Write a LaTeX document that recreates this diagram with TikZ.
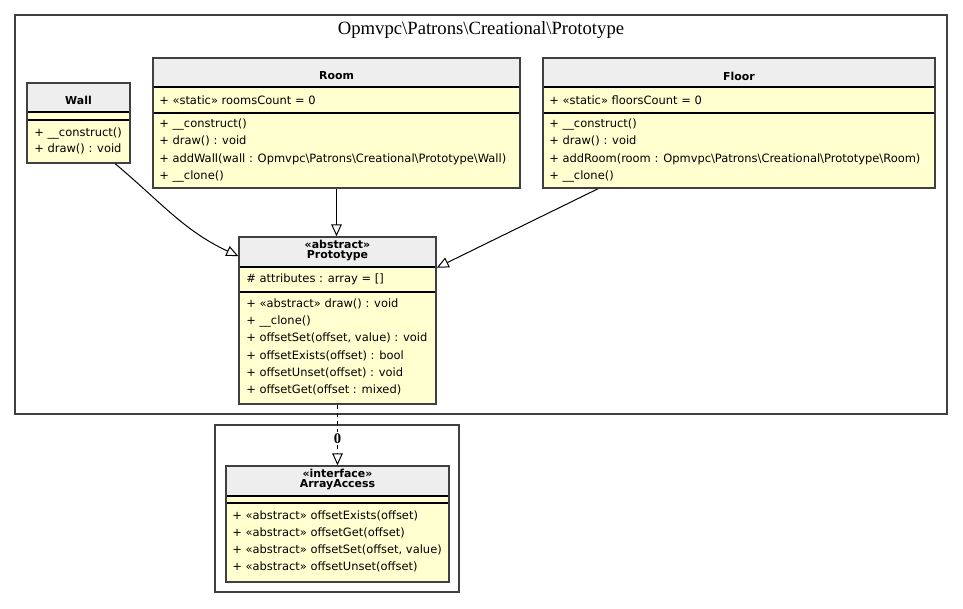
\documentclass[tikz,border=0pt]{standalone}
\usepackage{fontspec}
\setmainfont{Liberation Serif}
\setsansfont{DejaVu Sans}
\usetikzlibrary{arrows.meta, fit}

\definecolor{headfill}{RGB}{238,238,238}
\definecolor{bodyfill}{RGB}{255,255,208}
\definecolor{edgegray}{RGB}{64,64,64}

\begin{document}
\begin{tikzpicture}[x = 0.75pt, y = -0.75pt,
	> = {Triangle[open, length = 9pt, width = 8pt]},
	classbox/.style = {draw = edgegray, line width = 1.1pt, inner sep = 0pt},
	pkg/.style = {draw = edgegray, line width = 0.9pt, inner sep = 0pt},
	member/.style = {anchor = west, inner sep = 0pt, font = \sffamily\fontsize{8.6}{9}\selectfont},
	classname/.style = {inner sep = 0pt, font = \sffamily\bfseries\fontsize{8.2}{9}\selectfont},
	sep/.style = {line width = 0.8pt}]

	\useasboundingbox (0, 0) rectangle (963, 608);

	% Package frames

	\node [pkg, fit = {(15, 15) (947, 414)}] (pkgproto) {};
	\node [font = \fontsize{14}{15}\selectfont] (pkgtitle) at (481, 30) {Opmvpc\textbackslash Patrons\textbackslash Creational\textbackslash Prototype};
	\node [pkg, fit = {(215, 425) (459, 592)}] (pkgglobal) {};

	% Wall

	\fill [headfill] (27, 83) rectangle (130, 112);
	\fill [bodyfill] (27, 112) rectangle (130, 163);
	\draw [sep] (27, 112) -- (130, 112) (27, 120) -- (130, 120);
	\node [classbox, fit = {(27, 83) (130, 163)}] (wall) {};
	\node [classname] at (78.5, 100) {Wall};
	\node [member] at (34, 133) {+ \_\_construct()};
	\node [member] at (34, 149) {+ draw() : void};

	% Room

	\fill [headfill] (153, 58) rectangle (520, 87);
	\fill [bodyfill] (153, 87) rectangle (520, 188);
	\draw [sep] (153, 87) -- (520, 87) (153, 113) -- (520, 113);
	\node [classbox, fit = {(153, 58) (520, 188)}] (room) {};
	\node [classname] at (336.5, 76) {Room};
	\node [member] at (159, 100) {+ «static» roomsCount = 0};
	\node [member] at (159, 124) {+ \_\_construct()};
	\node [member] at (159, 141) {+ draw() : void};
	\node [member] at (159, 159) {+ addWall(wall : Opmvpc\textbackslash Patrons\textbackslash Creational\textbackslash Prototype\textbackslash Wall)};
	\node [member] at (159, 176) {+ \_\_clone()};

	% Floor

	\fill [headfill] (543, 58) rectangle (935, 87);
	\fill [bodyfill] (543, 87) rectangle (935, 188);
	\draw [sep] (543, 87) -- (935, 87) (543, 113) -- (935, 113);
	\node [classbox, fit = {(543, 58) (935, 188)}] (floor) {};
	\node [classname] at (739, 76) {Floor};
	\node [member] at (549, 100) {+ «static» floorsCount = 0};
	\node [member] at (549, 124) {+ \_\_construct()};
	\node [member] at (549, 141) {+ draw() : void};
	\node [member] at (549, 159) {+ addRoom(room : Opmvpc\textbackslash Patrons\textbackslash Creational\textbackslash Prototype\textbackslash Room)};
	\node [member] at (549, 176) {+ \_\_clone()};

	% Prototype

	\fill [headfill] (239, 237) rectangle (436, 267);
	\fill [bodyfill] (239, 267) rectangle (436, 404);
	\draw [sep] (239, 267) -- (436, 267) (239, 292) -- (436, 292);
	\node [classbox, fit = {(239, 237) (436, 404)}] (proto) {};
	\node [classname] at (337.5, 244) {«abstract»};
	\node [classname] at (337.5, 256) {Prototype};
	\node [member] at (246, 279) {\# attributes : array = []};
	\node [member] at (246, 304) {+ «abstract» draw() : void};
	\node [member] at (246, 321) {+ \_\_clone()};
	\node [member] at (246, 338) {+ offsetSet(offset, value) : void};
	\node [member] at (246, 356) {+ offsetExists(offset) : bool};
	\node [member] at (246, 373) {+ offsetUnset(offset) : void};
	\node [member] at (246, 390) {+ offsetGet(offset : mixed)};

	% ArrayAccess

	\fill [headfill] (226, 466) rectangle (449, 496);
	\fill [bodyfill] (226, 496) rectangle (449, 582);
	\draw [sep] (226, 496) -- (449, 496) (226, 503) -- (449, 503);
	\node [classbox, fit = {(226, 466) (449, 582)}] (iface) {};
	\node [classname] at (337.5, 473) {«interface»};
	\node [classname] at (337.5, 485) {ArrayAccess};
	\node [member] at (232, 516) {+ «abstract» offsetExists(offset)};
	\node [member] at (232, 533) {+ «abstract» offsetGet(offset)};
	\node [member] at (232, 550) {+ «abstract» offsetSet(offset, value)};
	\node [member] at (232, 567) {+ «abstract» offsetUnset(offset)};

	% Inheritance

	\draw [->, line width = 0.75pt] (wall.-48) to [out = -40, in = 155] (proto.147.6);
	\draw [->, line width = 0.75pt] (room.south) -- (room.south |- proto.north);
	\draw [->, line width = 0.75pt] (floor.205.9) -- (proto.28.1);

	% Implementation

	\draw [->, line width = 0.75pt, dash pattern = on 3pt off 3pt] (proto.south) -- node [pos = 0.56, fill = white, inner sep = 1pt, font = \bfseries\fontsize{11}{12}\selectfont] (implabel) {0} (iface.north);

\end{tikzpicture}
\end{document}
